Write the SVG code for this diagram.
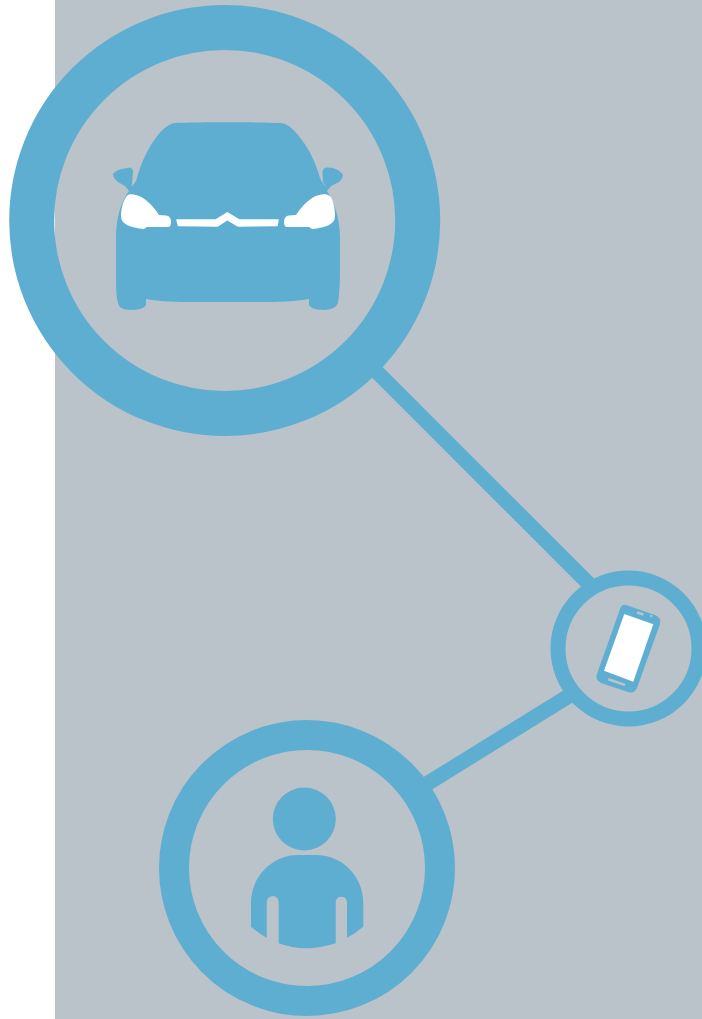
<svg xmlns="http://www.w3.org/2000/svg" width="702" height="1019" viewBox="0 0 702 1019">
<style>
.ring{fill:none;stroke:#5eaed1}
.ic{fill:#5eaed1}
.wh{fill:#fff}
.bgc{fill:#bac3ca}
.ln{stroke:#5eaed1;stroke-width:15;fill:none}
</style>
<rect width="702" height="1019" fill="#fff"/>
<rect x="55" y="0" width="647" height="1019" class="bgc"/>
<g id="connectors">
<line class="ln" x1="372" y1="367" x2="592" y2="587"/>
<line class="ln" x1="572" y1="694" x2="425" y2="785"/>
</g>
<g id="car">
<circle class="ring" cx="224.700" cy="220.500" r="193" stroke-width="45"/>
<path class="ic" d="M175 123C200 122 255 122 281 123C288 124 292 128 298 135C308 147 315 160 320 178C322 183 325 185 327 188L323 182L322.500 172Q323 167 328 167.500L333 168Q340 170 343 175Q342 181 337 183L331 186L327 191C335 203 340 220 340 238L340 270C340 285 339 297 338 303Q336 309 325 310Q311 310 309 305L309 299C285 303 265 302 228 302C190 302 170 303 146 299L146 305Q144 310 130 310Q119 310 118 303C116 295 116 285 116 270L116 238C116 220 120 203 129 191L125 186L118 182Q113 178 113 174Q116 170 122 169L130 167.500Q133 168 133 172L132 184L131 187C133 184 135 184 137 178C141 163 148 147 158 135C163 129 168 124 175 123Z"/>
<path class="wh" d="M130 194.300Q136 194 143 198Q152 204 159 215L166 215.500Q171 216 171 222Q171 227 168 227L147 227L144 229Q134 228 127 225Q121 222 121 216Q121 205 126 197Q128 194 130 194.300Z"/>
<path class="wh" d="M325 194.300Q319 194 312 198Q303 204 296 215L289 215.500Q284 216 284 222Q284 227 287 227L309 227L312 229Q322 228 329 225Q335 222 335 216Q335 205 331 197Q328 194 325 194.300Z"/>
<path class="wh" stroke="#fff" stroke-width="1.500" stroke-linejoin="round" d="M177 220L216 220L227.300 213L239 220L278 220L277 225.600L238.300 226L227.300 219.500L217.300 226L178.500 225.600Z"/>
</g>
<g id="phone">
<circle class="ring" cx="628.500" cy="648.500" r="70.500" stroke-width="15"/>
<path class="ic" d="M626 605L655 615Q661.500 618 660 624L637 688Q634 694 628 692L601 683Q595 680 597 674L620 609Q622 604 626 605Z"/>
<path class="wh" d="M624.300 614L653.300 624.300L633.300 681.700L604 670.700Z"/>
<path d="M637 612.500L643.500 614.500M608.300 679.300L625 685" stroke="#bac3ca" stroke-width="2.500" fill="none"/>
<circle class="bgc" cx="651.300" cy="616" r="1.200"/>
</g>
<g id="person">
<circle class="ring" cx="307" cy="868" r="133" stroke-width="30"/>
<circle class="ic" cx="304.300" cy="819" r="31.500"/>
<path class="ic" d="M251 926.700L251 903C251 876 273 855 298 855L316 855C342 855 363.300 876 363.300 903L363.300 926.700Q356 933 347 937.700L347 902A5.700 6 0 0 0 335.700 902L335.700 943.300Q320 948.300 306.700 948.300Q292 948.300 278.700 943.300L278.700 902A6 6 0 0 0 266.700 902L266.700 937.700Q258 933 251 926.700Z"/>
</g>
</svg>
